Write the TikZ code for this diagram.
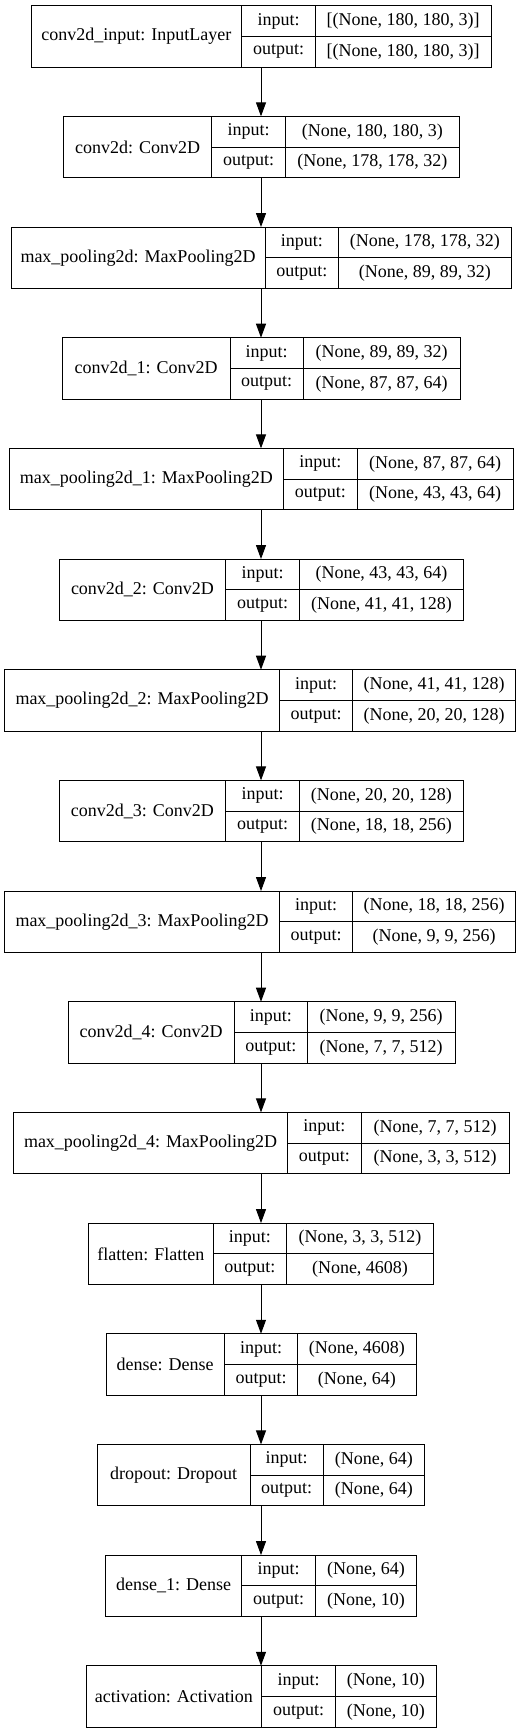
\documentclass[tikz,border=0pt]{standalone}
\usepackage{fontspec}
\setmainfont{Liberation Serif}
\usetikzlibrary{arrows.meta}

\begin{document}
\begin{tikzpicture}[
  x=1pt, y=-1pt,
  font=\fontsize{18}{21}\selectfont,
  layerbox/.style={draw,line width=1pt,inner sep=0pt,outer sep=0pt,minimum height=61.5pt},
  iocell/.style={draw,line width=1pt,inner sep=0pt,outer sep=0pt,minimum height=30.75pt},
  >={Triangle[length=14pt,width=10pt]},
]
\useasboundingbox (0,0) rectangle (531,1733);
% one row per layer: name / left / split 1 / split 2 / right / input / output
\foreach \lbl/\l/\da/\db/\r/\vin/\vout [count=\i] in {
  conv2d\_input: InputLayer/31/241.7/315.3/491/{[(None, 180, 180, 3)]}/{[(None, 180, 180, 3)]},
  conv2d: Conv2D/63.7/211.7/285.3/459.3/{(None, 180, 180, 3)}/{(None, 178, 178, 32)},
  max\_pooling2d: MaxPooling2D/11/265/338.7/511/{(None, 178, 178, 32)}/{(None, 89, 89, 32)},
  conv2d\_1: Conv2D/62.3/230/303.3/460/{(None, 89, 89, 32)}/{(None, 87, 87, 64)},
  max\_pooling2d\_1: MaxPooling2D/9/283.7/357/513.3/{(None, 87, 87, 64)}/{(None, 43, 43, 64)},
  conv2d\_2: Conv2D/59.3/225.7/299.7/463.3/{(None, 43, 43, 64)}/{(None, 41, 41, 128)},
  max\_pooling2d\_2: MaxPooling2D/4.7/279.3/352.7/515.7/{(None, 41, 41, 128)}/{(None, 20, 20, 128)},
  conv2d\_3: Conv2D/59/225.7/299.3/463.3/{(None, 20, 20, 128)}/{(None, 18, 18, 256)},
  max\_pooling2d\_3: MaxPooling2D/4.7/279.3/352.7/515.7/{(None, 18, 18, 256)}/{(None, 9, 9, 256)},
  conv2d\_4: Conv2D/68/234.3/307.3/455/{(None, 9, 9, 256)}/{(None, 7, 7, 512)},
  max\_pooling2d\_4: MaxPooling2D/13.3/287.7/361/509.3/{(None, 7, 7, 512)}/{(None, 3, 3, 512)},
  flatten: Flatten/88.3/213.3/286.3/433.7/{(None, 3, 3, 512)}/{(None, 4608)},
  dense: Dense/106/224.3/297.7/416/{(None, 4608)}/{(None, 64)},
  dropout: Dropout/97.3/250/323.3/424.3/{(None, 64)}/{(None, 64)},
  dense\_1: Dense/105.7/241.7/315.3/416.7/{(None, 64)}/{(None, 10)},
  activation: Activation/86/261.7/335.3/436.3/{(None, 10)}/{(None, 10)}%
}{
  \pgfmathsetmacro\T{5.7+(\i-1)*110.67}
  \pgfmathsetmacro\W{\r-\l}
  \pgfmathsetmacro\wa{\da-\l}
  \pgfmathsetmacro\wb{\db-\da}
  \pgfmathsetmacro\wc{\r-\db}
  \node[layerbox,draw=none,minimum width=\W pt] (layer\i) at (261,\T+30.75) {};
  \node[layerbox,minimum width=\wa pt] (name\i) at ({(\l+\da)/2},\T+30.75) {\lbl};
  \node[iocell,minimum width=\wb pt] (in\i) at ({(\da+\db)/2},\T+15.375) {input:};
  \node[iocell,minimum width=\wb pt] (out\i) at ({(\da+\db)/2},\T+46.125) {output:};
  \node[iocell,minimum width=\wc pt] (vin\i) at ({(\db+\r)/2},\T+15.375) {\vin};
  \node[iocell,minimum width=\wc pt] (vout\i) at ({(\db+\r)/2},\T+46.125) {\vout};
}
\foreach \i in {1,...,15}{
  \pgfmathtruncatemacro\j{\i+1}
  \draw[->,line width=1pt] (layer\i.south) -- (layer\j.north);
}
\end{tikzpicture}
\end{document}
